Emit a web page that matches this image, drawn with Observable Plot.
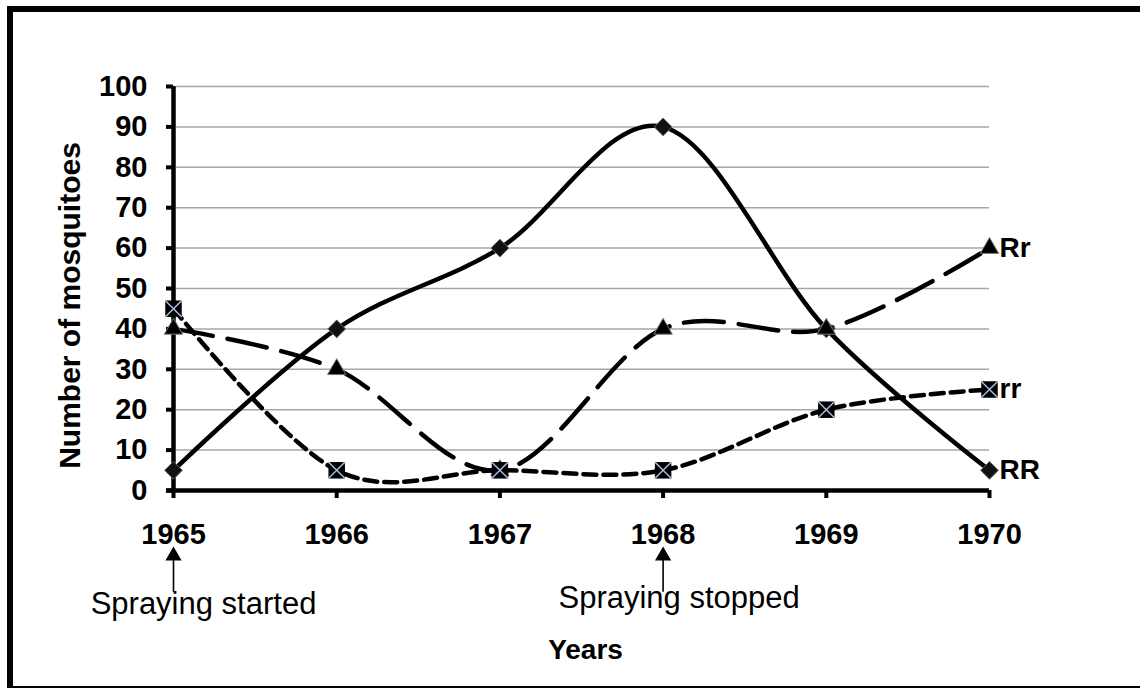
<!DOCTYPE html>
<html><head><meta charset="utf-8">
<script src="https://cdn.jsdelivr.net/npm/d3@7"></script>
<script src="https://cdn.jsdelivr.net/npm/@observablehq/plot@0.6"></script>
<style>
html,body{margin:0;padding:0;background:#fff;overflow:hidden;width:1140px;height:689px;position:relative;}
#chart{position:absolute;left:0;top:0;}
#frame{position:absolute;left:7px;top:6px;width:1200px;height:674px;border-top:6px solid #000;border-left:6px solid #000;border-bottom:2px solid #000;pointer-events:none;}
</style>
</head><body>
<div id="chart"></div>
<div id="frame"></div>
<script>
const years = [1965, 1966, 1967, 1968, 1969, 1970];
const seriesRR = [5, 40, 60, 90, 40, 5];
const seriesRr = [40, 30, 5, 40, 40, 60];
const seriesrr = [45, 5, 5, 5, 20, 25];
const yTicks = [0, 10, 20, 30, 40, 50, 60, 70, 80, 90, 100];
const seriesNames = ["RR", "Rr", "rr"];
const annotations = [
  {year: 1965, label: "Spraying started"},
  {year: 1968, label: "Spraying stopped"}
];
const yTitle = "Number of mosquitoes";
const xTitle = "Years";

const valuesBy = {RR: seriesRR, Rr: seriesRr, rr: seriesrr};
const rows = seriesNames.flatMap(s => years.map((y, i) => ({series: s, year: y, value: valuesBy[s][i]})));
const of = s => rows.filter(d => d.series === s);
const lastRows = seriesNames.map(s => of(s)[years.length - 1]);

const plot = Plot.plot({
  width: 1140, height: 689,
  marginLeft: 173, marginRight: 151, marginTop: 86, marginBottom: 199,
  x: {domain: [1965, 1970]},
  y: {domain: [0, 100]},
  style: {fontFamily: "'Liberation Sans', Arial, sans-serif", background: "transparent", overflow: "visible", color: "#000"},
  marks: [
    Plot.ruleY(yTicks.filter(d => d > 0), {stroke: "#a6a6a6", strokeWidth: 1.5, insetLeft: 3}),
    Plot.axisY({ticks: yTicks, tickSize: 7, tickPadding: 19, strokeWidth: 4, fontSize: 29, fontWeight: "bold", label: null, tickFormat: d => String(d)}),
    Plot.axisX({ticks: years, tickSize: 8, tickPadding: 25, strokeWidth: 4, fontSize: 29, fontWeight: "bold", label: null, tickFormat: d => String(d)}),
    Plot.ruleY([0], {insetLeft: -7, strokeWidth: 4.5}),
    Plot.ruleX([1965], {strokeWidth: 4.5}),
    Plot.line(of("RR"), {x: "year", y: "value", curve: "cardinal", stroke: "#000", strokeWidth: 4.5}),
    Plot.line(of("Rr"), {x: "year", y: "value", curve: "cardinal", stroke: "#000", strokeWidth: 4.5, strokeDasharray: "40,15"}),
    Plot.line(of("rr"), {x: "year", y: "value", curve: "cardinal", stroke: "#000", strokeWidth: 4.5, strokeDasharray: "13,7"}),
    Plot.dot(of("RR"), {x: "year", y: "value", symbol: "diamond2", r: 8, fill: "#111", stroke: "#666", strokeWidth: 1}),
    Plot.dot(of("Rr"), {x: "year", y: "value", symbol: "triangle", r: 6.8, fill: "#000", stroke: "#777", strokeWidth: 1}),
    Plot.dot(of("rr"), {x: "year", y: "value", symbol: "square", r: 9.3, fill: "#000"}),
    Plot.dot(of("rr"), {x: "year", y: "value", symbol: "times", r: 7.6, stroke: "#a9c0ea", strokeWidth: 1.4}),
    Plot.text(lastRows, {x: "year", y: "value", text: "series", textAnchor: "start", dx: 10, fontSize: 28, fontWeight: "bold", fill: "#000"}),
    Plot.ruleX(annotations, {x: "year", y1: -25.2, y2: -16, strokeWidth: 1.6}),
    Plot.dot(annotations, {x: "year", y: -16.2, symbol: "triangle", r: 6, fill: "#000"}),
    Plot.text([annotations[0]], {x: "year", text: "label", frameAnchor: "bottom", dx: 30, dy: 114, fontSize: 31, lineAnchor: "middle", fill: "#000"}),
    Plot.text([annotations[1]], {x: "year", text: "label", frameAnchor: "bottom", dx: 16, dy: 108, fontSize: 31, lineAnchor: "middle", fill: "#000"}),
    Plot.text([yTitle], {frameAnchor: "left", rotate: -90, dx: -103, dy: 17, fontSize: 30, fontWeight: "bold", textAnchor: "middle", lineAnchor: "middle", fill: "#000"}),
    Plot.text([xTitle], {frameAnchor: "bottom", dx: 4, dy: 160, fontSize: 28, fontWeight: "bold", lineAnchor: "middle", fill: "#000"})
  ]
});
document.getElementById("chart").appendChild(plot);
</script>
</body></html>
